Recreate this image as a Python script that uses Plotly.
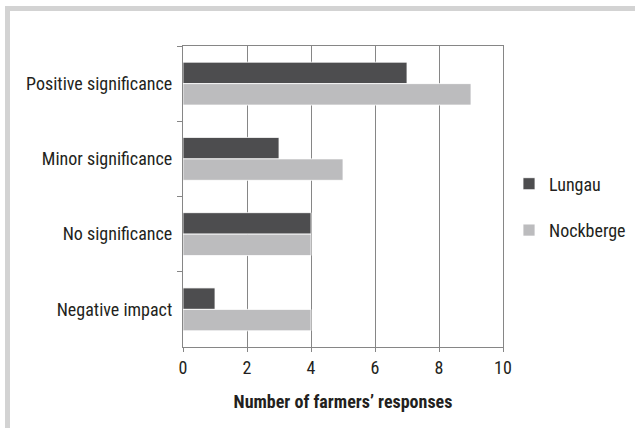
import plotly.graph_objects as go

categories = ["Positive significance", "Minor significance", "No significance", "Negative impact"]
lungau = [7, 3, 4, 1]
nockberge = [9, 5, 4, 4]
x_ticks = [0, 2, 4, 6, 8, 10]

W, H = 635, 428
L, R, T, B = 183, 132, 46, 81
pw, ph = W - L - R, H - T - B

def px_x(p):
    return (p - L) / pw

def px_y(p):
    return (H - B - p) / ph

FONT = "Liberation Sans Narrow, Arial Narrow, Roboto Condensed, sans-serif"

fig = go.Figure()
fig.add_trace(go.Bar(y=categories, x=lungau, orientation="h", name="Lungau",
                     marker=dict(color="#4d4d4f", line=dict(color="white", width=0.8)),
                     legendgroup="a"))
fig.add_trace(go.Bar(y=categories, x=nockberge, orientation="h", name="Nockberge",
                     marker=dict(color="#bcbcbe", line=dict(color="white", width=0.8)),
                     legendgroup="b"))

# frame (top and left borders)
fig.add_shape(type="rect", xref="paper", yref="paper", x0=px_x(5), x1=px_x(635),
              y0=px_y(11), y1=px_y(6), fillcolor="#d3d3d3", line=dict(width=0), layer="below")
fig.add_shape(type="rect", xref="paper", yref="paper", x0=px_x(5), x1=px_x(10),
              y0=px_y(428), y1=px_y(6), fillcolor="#d3d3d3", line=dict(width=0), layer="below")

fig.update_layout(
    width=W, height=H,
    margin=dict(l=L, r=R, t=T, b=B, pad=0, autoexpand=False),
    plot_bgcolor="white", paper_bgcolor="white",
    barmode="group", bargap=0.43, bargroupgap=0,
    font=dict(family=FONT, size=18, color="#231f20"),
    legend=dict(x=px_x(509), y=px_y(207), xanchor="left", yanchor="middle",
                traceorder="grouped", tracegroupgap=20,
                font=dict(family=FONT, size=18, color="#231f20"),
                bgcolor="rgba(0,0,0,0)"),
    xaxis=dict(range=[0, 10], tickvals=x_ticks, showgrid=True, gridcolor="#868686", gridwidth=1.3,
               showline=True, linecolor="#868686", linewidth=1.3, mirror=True,
               ticks="outside", ticklen=4, tickcolor="#868686", zeroline=False,
               title=dict(text="<b>Number of farmers’ responses</b>", standoff=18,
                          font=dict(family=FONT, size=18, color="#231f20"))),
    yaxis=dict(autorange="reversed", showgrid=False, showline=True, linecolor="#868686",
               linewidth=1.3, mirror=True, ticks="outside", ticklen=5, tickcolor="#868686",
               tickson="boundaries", ticklabelstandoff=6),
)

fig.write_html("out.html", post_script="document.body.style.margin='0';",
               config={"displayModeBar": False})
